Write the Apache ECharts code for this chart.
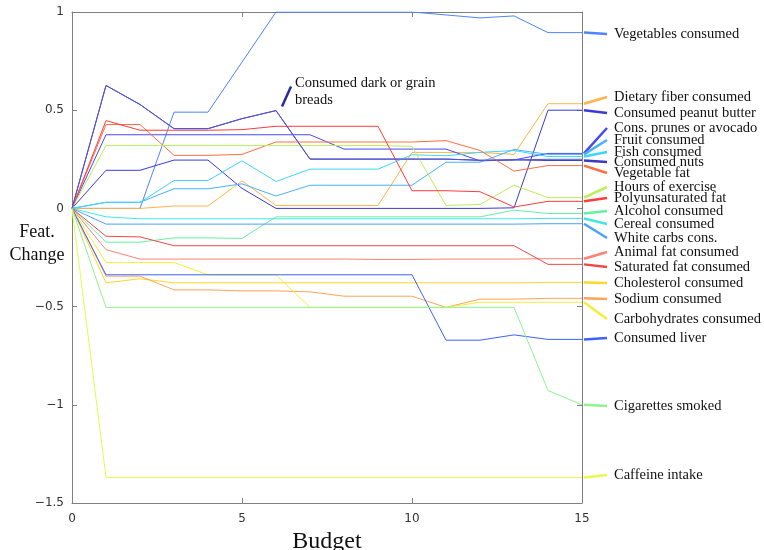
<!DOCTYPE html>
<html>
<head>
<meta charset="utf-8">
<script src="https://cdn.jsdelivr.net/npm/echarts@6/dist/echarts.min.js"></script>
<style>
  html, body { margin: 0; padding: 0; background: #ffffff; }
  #chart { width: 764px; height: 550px; }
</style>
</head>
<body>
<div id="chart"></div>
<script>
// Budget steps on the x axis
const budget = [0, 1, 2, 3, 4, 5, 6, 7, 8, 9, 10, 11, 12, 13, 14, 15];

// Feature change per budget step, one array per feature
const vegetables    = [0, 0, 0, 0.49, 0.49, 0.745, 1.0, 1.0, 1.0, 1.0, 1.0, 0.985, 0.97, 0.98, 0.895, 0.895];
const dietaryFiber  = [0, 0, 0, 0.012, 0.012, 0.14, 0.015, 0.015, 0.015, 0.015, 0.285, 0.285, 0.285, 0.275, 0.533, 0.533];
const peanutButter  = [0, 0.194, 0.194, 0.246, 0.246, 0.102, 0.0, 0.0, 0.0, 0.0, 0.0, 0.0, 0.0, 0.003, 0.5, 0.5];
const prunesAvocado = [0, 0.375, 0.375, 0.375, 0.375, 0.375, 0.375, 0.375, 0.302, 0.302, 0.302, 0.302, 0.242, 0.247, 0.28, 0.28];
const fruit         = [0, 0.031, 0.031, 0.1, 0.1, 0.125, 0.063, 0.118, 0.118, 0.118, 0.118, 0.235, 0.235, 0.3, 0.275, 0.275];
const fish          = [0, 0.031, 0.031, 0.142, 0.142, 0.242, 0.137, 0.2, 0.2, 0.2, 0.273, 0.268, 0.285, 0.295, 0.264, 0.264];
const nuts          = [0, 0.626, 0.529, 0.406, 0.406, 0.457, 0.498, 0.251, 0.251, 0.251, 0.251, 0.251, 0.245, 0.247, 0.244, 0.244];
const darkBreads    = [0, 0.626, 0.529, 0.406, 0.406, 0.457, 0.498, 0.251, 0.251, 0.251, 0.251, 0.251, 0.245, 0.247, 0.25, 0.25];
const vegetableFat  = [0, 0.427, 0.427, 0.27, 0.27, 0.275, 0.338, 0.338, 0.338, 0.338, 0.338, 0.345, 0.295, 0.19, 0.218, 0.218];
const exercise      = [0, 0.32, 0.32, 0.32, 0.32, 0.32, 0.32, 0.32, 0.32, 0.32, 0.316, 0.015, 0.02, 0.118, 0.055, 0.055];
const polyFat       = [0, 0.447, 0.398, 0.398, 0.398, 0.401, 0.418, 0.418, 0.418, 0.418, 0.09, 0.09, 0.085, 0.007, 0.036, 0.036];
const alcohol       = [0, -0.172, -0.172, -0.15, -0.15, -0.153, -0.043, -0.043, -0.043, -0.043, -0.043, -0.043, -0.043, -0.009, -0.026, -0.026];
const cereal        = [0, -0.043, -0.053, -0.053, -0.053, -0.053, -0.053, -0.053, -0.053, -0.053, -0.053, -0.053, -0.053, -0.053, -0.051, -0.051];
const whiteCarbs    = [0, -0.08, -0.08, -0.08, -0.08, -0.08, -0.08, -0.08, -0.08, -0.08, -0.08, -0.08, -0.08, -0.08, -0.078, -0.078];
const animalFat     = [0, -0.21, -0.258, -0.258, -0.258, -0.258, -0.258, -0.258, -0.258, -0.26, -0.26, -0.258, -0.258, -0.258, -0.256, -0.256];
const saturatedFat  = [0, -0.142, -0.145, -0.19, -0.19, -0.19, -0.19, -0.19, -0.19, -0.19, -0.19, -0.19, -0.19, -0.19, -0.285, -0.285];
const cholesterol   = [0, -0.379, -0.358, -0.379, -0.379, -0.379, -0.379, -0.379, -0.379, -0.379, -0.379, -0.379, -0.379, -0.379, -0.377, -0.377];
const sodium        = [0, -0.345, -0.345, -0.415, -0.415, -0.42, -0.42, -0.425, -0.447, -0.447, -0.447, -0.504, -0.462, -0.462, -0.458, -0.458];
const carbohydrates = [0, -0.276, -0.276, -0.276, -0.338, -0.338, -0.338, -0.504, -0.504, -0.504, -0.504, -0.504, -0.478, -0.478, -0.478, -0.478];
const liver         = [0, -0.338, -0.338, -0.338, -0.338, -0.338, -0.338, -0.338, -0.338, -0.338, -0.338, -0.671, -0.671, -0.644, -0.667, -0.667];
const cigarettes    = [0, -0.504, -0.504, -0.504, -0.504, -0.504, -0.504, -0.504, -0.504, -0.504, -0.504, -0.504, -0.504, -0.504, -0.927, -1.0];
const caffeine      = [0, -1.37, -1.37, -1.37, -1.37, -1.37, -1.37, -1.37, -1.37, -1.37, -1.37, -1.37, -1.37, -1.37, -1.37, -1.37];

// Axis ticks
const xTicks = [0, 5, 10, 15];
const yTicks = [-1.5, -1, -0.5, 0, 0.5, 1];

// Feature names and the array each one reads from (drawing order: later on top)
const features = [
  { name: 'Consumed nuts',           values: nuts },
  { name: 'Vegetables consumed',     values: vegetables },
  { name: 'Dietary fiber consumed',  values: dietaryFiber },
  { name: 'Consumed peanut butter',  values: peanutButter },
  { name: 'Cons. prunes or avocado', values: prunesAvocado },
  { name: 'Fruit consumed',          values: fruit },
  { name: 'Fish consumed',           values: fish },
  { name: 'Vegetable fat',           values: vegetableFat },
  { name: 'Hours of exercise',       values: exercise },
  { name: 'Polyunsaturated fat',     values: polyFat },
  { name: 'Alcohol consumed',        values: alcohol },
  { name: 'Cereal consumed',         values: cereal },
  { name: 'White carbs cons.',       values: whiteCarbs },
  { name: 'Animal fat consumed',     values: animalFat },
  { name: 'Saturated fat consumed',  values: saturatedFat },
  { name: 'Cholesterol consumed',    values: cholesterol },
  { name: 'Sodium consumed',         values: sodium },
  { name: 'Carbohydrates consumed',  values: carbohydrates },
  { name: 'Consumed liver',          values: liver },
  { name: 'Cigarettes smoked',       values: cigarettes },
  { name: 'Caffeine intake',         values: caffeine },
  { name: 'Consumed dark or grain breads', values: darkBreads }
];

// Styling: line colour per feature and the pixel row of its side label
const styleByName = {
  'Vegetables consumed':     { color: '#4d84ff', labelY: 34 },
  'Dietary fiber consumed':  { color: '#ffb44a', labelY: 97 },
  'Consumed peanut butter':  { color: '#3a3ad6', labelY: 113 },
  'Cons. prunes or avocado': { color: '#4848f4', labelY: 128 },
  'Fruit consumed':          { color: '#48b0ff', labelY: 140 },
  'Fish consumed':           { color: '#3cd6ff', labelY: 152 },
  'Consumed nuts':           { color: '#3a3ac0', labelY: 162 },
  'Vegetable fat':           { color: '#ff7040', labelY: 173 },
  'Hours of exercise':       { color: '#b8f05a', labelY: 187 },
  'Polyunsaturated fat':     { color: '#ff3c3c', labelY: 198 },
  'Alcohol consumed':        { color: '#66f0a4', labelY: 211 },
  'Cereal consumed':         { color: '#44e4e8', labelY: 224 },
  'White carbs cons.':       { color: '#4aa0ff', labelY: 238 },
  'Animal fat consumed':     { color: '#ff8272', labelY: 252 },
  'Saturated fat consumed':  { color: '#f04848', labelY: 267 },
  'Cholesterol consumed':    { color: '#ffd62e', labelY: 283 },
  'Sodium consumed':         { color: '#ffa456', labelY: 299 },
  'Carbohydrates consumed':  { color: '#f4ee3a', labelY: 319 },
  'Consumed liver':          { color: '#3e62ff', labelY: 338 },
  'Cigarettes smoked':       { color: '#8ef48e', labelY: 406 },
  'Caffeine intake':         { color: '#e6fc4c', labelY: 475 },
  'Consumed dark or grain breads': { color: '#5454d6', labelY: null }
};

const serif = '"Liberation Serif", "DejaVu Serif", serif';
const sans = '"DejaVu Sans", sans-serif';
const axisGray = '#808080';
const tickFmt = v => String(v).replace('-', '\u2212');

const chart = echarts.init(document.getElementById('chart'), null, { renderer: 'canvas' });

const baseAxisX = {
  type: 'value', min: 0, max: 15, interval: 5,
  axisLine: { show: true, onZero: false, lineStyle: { color: axisGray, width: 1 } },
  axisTick: { show: true, inside: true, length: 5, lineStyle: { color: axisGray } },
  splitLine: { show: false }
};
const baseAxisY = {
  type: 'value', min: -1.5, max: 1, interval: 0.5,
  axisLine: { show: true, onZero: false, lineStyle: { color: axisGray, width: 1 } },
  axisTick: { show: true, inside: true, length: 5, lineStyle: { color: axisGray } },
  splitLine: { show: false }
};

const option = {
  animation: false,
  backgroundColor: '#ffffff',
  grid: { left: 72, right: 182, top: 12, bottom: 47, containLabel: false, outerBoundsMode: 'none' },
  xAxis: [
    Object.assign({}, baseAxisX, {
      position: 'bottom',
      axisLabel: {
        color: '#333333', fontFamily: sans, fontSize: 12, margin: 10,
        formatter: v => xTicks.includes(v) ? tickFmt(v) : ''
      },
      name: 'Budget', nameLocation: 'middle', nameGap: 20,
      nameTextStyle: { fontFamily: serif, fontSize: 24, color: '#111111', verticalAlign: 'top' }
    }),
    Object.assign({}, baseAxisX, { position: 'top', axisLabel: { show: false } })
  ],
  yAxis: [
    Object.assign({}, baseAxisY, {
      position: 'left',
      axisLabel: {
        color: '#333333', fontFamily: sans, fontSize: 12, margin: 8,
        formatter: v => yTicks.includes(v) ? tickFmt(v) : ''
      }
    }),
    Object.assign({}, baseAxisY, { position: 'right', axisLabel: { show: false } })
  ],
  series: features.map(f => ({
    name: f.name,
    type: 'line',
    xAxisIndex: 0,
    yAxisIndex: 0,
    data: budget.map((b, i) => [b, f.values[i]]),
    showSymbol: false,
    symbol: 'none',
    silent: true,
    lineStyle: { color: styleByName[f.name].color, width: 1 },
    itemStyle: { color: styleByName[f.name].color }
  }))
};

chart.setOption(option);

// Side labels with short leader strokes from each curve's final value
const graphics = [];
features.forEach(f => {
  const st = styleByName[f.name];
  if (st.labelY === null) return;
  const last = budget.length - 1;
  const p = chart.convertToPixel({ gridIndex: 0 }, [budget[last], f.values[last]]);
  graphics.push({
    type: 'line', silent: true, z: 10,
    shape: { x1: p[0] + 2, y1: p[1], x2: p[0] + 25, y2: st.labelY },
    style: { stroke: st.color, lineWidth: 2.5 }
  });
  graphics.push({
    type: 'text', silent: true, z: 10,
    x: p[0] + 32, y: st.labelY,
    style: { text: f.name, fontFamily: serif, fontSize: 14.5, fill: '#111111', verticalAlign: 'middle', align: 'left' }
  });
});

// In-plot annotation for the dark/grain breads curve at its budget-6 peak
(function () {
  const f = features.find(x => x.name === 'Consumed dark or grain breads');
  const i = budget.indexOf(6);
  const p = chart.convertToPixel({ gridIndex: 0 }, [budget[i], f.values[i]]);
  graphics.push({
    type: 'line', silent: true, z: 10,
    shape: { x1: p[0] + 6, y1: p[1] - 4, x2: p[0] + 15, y2: p[1] - 24 },
    style: { stroke: '#2a2a9a', lineWidth: 2.5 }
  });
  graphics.push({
    type: 'text', silent: true, z: 10,
    x: p[0] + 19, y: p[1] - 36,
    style: { text: 'Consumed dark or grain\nbreads', fontFamily: serif, fontSize: 14.5, lineHeight: 17, fill: '#111111', verticalAlign: 'top', align: 'left' }
  });
})();

// Vertical axis title
graphics.push({
  type: 'text', silent: true,
  x: 37, y: 243.5,
  style: { text: 'Feat.\nChange', fontFamily: serif, fontSize: 18, lineHeight: 23, fill: '#111111', align: 'center', verticalAlign: 'middle' }
});

chart.setOption({ graphic: graphics });
</script>
</body>
</html>
